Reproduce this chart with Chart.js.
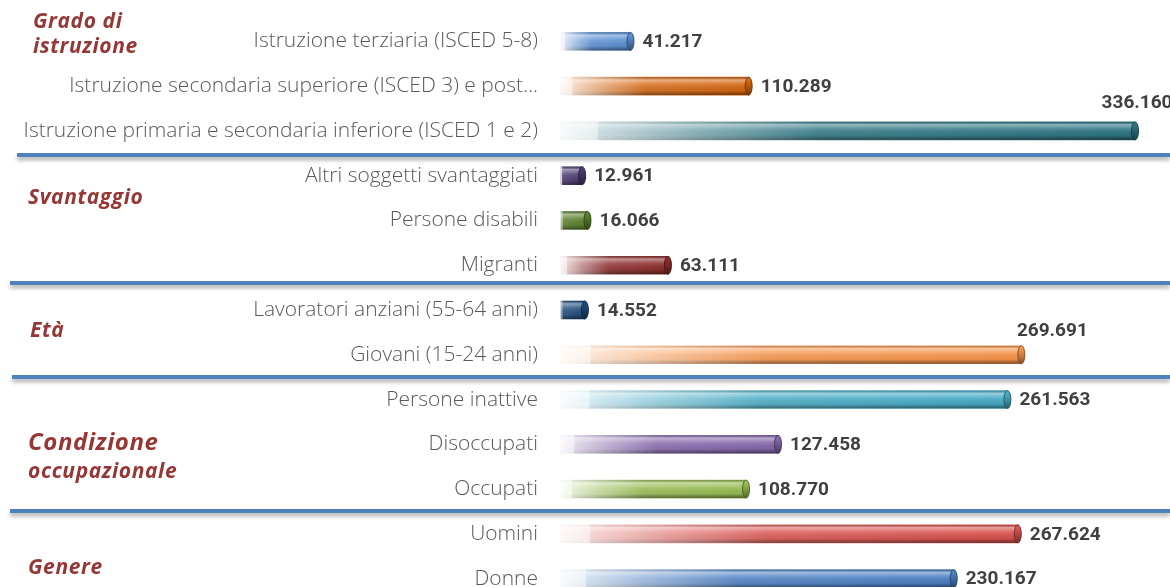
<!DOCTYPE html>
<html lang="it">
<head>
<meta charset="UTF-8">
<title>Partecipanti per caratteristiche</title>
<script src="https://cdn.jsdelivr.net/npm/chart.js"></script>
<style>
  html, body { margin: 0; padding: 0; background: #fff; overflow: hidden; }
  #wrap { width: 1170px; height: 601px; }
</style>
</head>
<body>
<div id="wrap"><canvas id="chart" width="1170" height="601"></canvas></div>
<script>
const categories = [
  'Istruzione terziaria (ISCED 5-8)',
  'Istruzione secondaria superiore (ISCED 3) e post\u2026',
  'Istruzione primaria e secondaria inferiore (ISCED 1 e 2)',
  'Altri soggetti svantaggiati',
  'Persone disabili',
  'Migranti',
  'Lavoratori anziani (55-64 anni)',
  'Giovani (15-24 anni)',
  'Persone inattive',
  'Disoccupati',
  'Occupati',
  'Uomini',
  'Donne'
];
const values = [41217, 110289, 336160, 12961, 16066, 63111, 14552, 269691, 261563, 127458, 108770, 267624, 230167];
const barColors = ['#5b8fd2', '#d4650f', '#2c7482', '#4b3a6e', '#5a7f2c', '#8c2b2b', '#1f4a7c',
                   '#f7944a', '#45aac4', '#8466aa', '#96bb50', '#d9524e', '#4a7fc2'];
const groupLabels = [['Grado di', 'istruzione'], ['Svantaggio'], ['Et\u00e0'], ['Condizione', 'occupazionale'], ['Genere']];

function fmt(v) { return String(v).replace(/\B(?=(\d{3})+(?!\d))/g, '.'); }
function rgb(hex) {
  const n = parseInt(hex.slice(1), 16);
  return [(n >> 16) & 255, (n >> 8) & 255, n & 255];
}
function rgba(hex, a, k) {
  k = k || 1;
  const c = rgb(hex).map(v => Math.min(255, Math.round(v * k)));
  return 'rgba(' + c.join(',') + ',' + a + ')';
}

// horizontal fade from almost white to the full colour
function barFill(ctx) {
  const chart = ctx.chart, i = ctx.dataIndex;
  const x = chart.scales.x;
  if (!chart.chartArea || !x || i === undefined) return barColors[i] || '#888';
  const x0 = x.getPixelForValue(0), x1 = x.getPixelForValue(values[i]);
  const w = x1 - x0;
  const c = barColors[i];
  const g = chart.ctx.createLinearGradient(x0, 0, x1, 0);
  const f = w > 50 ? 0.45 : 0.12;
  g.addColorStop(0, rgba(c, 0.04));
  g.addColorStop(0.065, rgba(c, 0.12));
  g.addColorStop(0.067, rgba(c, 0.25));
  g.addColorStop(f * 0.5, rgba(c, 0.55));
  g.addColorStop(f, rgba(c, 0.9));
  g.addColorStop(1, rgba(c, 1));
  return g;
}

const cylinder = {
  id: 'cylinder',
  afterDatasetsDraw(chart) {
    const ctx = chart.ctx;
    chart.getDatasetMeta(0).data.forEach((bar, i) => {
      const h = bar.height, top = bar.y - h / 2;
      const left = bar.base, right = bar.x;
      ctx.save();
      ctx.globalCompositeOperation = 'source-atop';
      const g = ctx.createLinearGradient(0, top, 0, top + h);
      g.addColorStop(0, 'rgba(0,0,0,0.2)');
      g.addColorStop(0.15, 'rgba(255,255,255,0.45)');
      g.addColorStop(0.4, 'rgba(255,255,255,0.12)');
      g.addColorStop(0.75, 'rgba(0,0,0,0.05)');
      g.addColorStop(1, 'rgba(0,0,0,0.5)');
      ctx.fillStyle = g;
      ctx.fillRect(left, top, right - left + 1, h);
      ctx.restore();
      // rounded end cap
      const c = barColors[i];
      ctx.save();
      ctx.beginPath();
      ctx.ellipse(right, bar.y, 3.5, h / 2, 0, 0, Math.PI * 2);
      const g2 = ctx.createLinearGradient(0, top, 0, top + h);
      g2.addColorStop(0, rgba(c, 1, 1.1));
      g2.addColorStop(0.5, rgba(c, 1, 0.85));
      g2.addColorStop(1, rgba(c, 1, 0.55));
      ctx.fillStyle = g2;
      ctx.fill();
      ctx.lineWidth = 1;
      ctx.strokeStyle = rgba(c, 0.9, 0.5);
      ctx.stroke();
      ctx.restore();
    });
  }
};

// value labels; two of them sit above the bar end as in the original
const valueLabels = {
  id: 'valueLabels',
  afterDatasetsDraw(chart) {
    const ctx = chart.ctx;
    const above = { 2: [2, -28], 7: [31, -24] };
    ctx.save();
    ctx.font = 'bold 19px Roboto';
    ctx.fillStyle = '#404040';
    ctx.textBaseline = 'middle';
    chart.getDatasetMeta(0).data.forEach((bar, i) => {
      const t = fmt(values[i]);
      if (above[i]) {
        ctx.textAlign = 'center';
        ctx.fillText(t, bar.x + above[i][0], bar.y + above[i][1]);
      } else {
        ctx.textAlign = 'left';
        ctx.fillText(t, bar.x + 12, bar.y + 1);
      }
    });
    ctx.restore();
  }
};

// blue group separators and dark red group titles
const groupsPlugin = {
  id: 'groups',
  afterDraw(chart) {
    const ctx = chart.ctx, y = chart.scales.y;
    const seps = [[2.53, 17], [5.4, 10], [7.5, 12], [10.49, 10]];
    ctx.save();
    seps.forEach(([idx, x0]) => {
      const py = Math.round(y.getPixelForValue(idx));
      ctx.shadowColor = 'rgba(0,0,0,0.35)';
      ctx.shadowBlur = 4;
      ctx.shadowOffsetY = 3;
      ctx.fillStyle = '#4f81bd';
      ctx.fillRect(x0, py - 2, chart.width - x0, 4);
    });
    ctx.restore();

    const titles = [
      [[-0.43, 33, 21], [0.125, 33, 21]],
      [[3.5, 28, 21]],
      [[6.47, 30, 21]],
      [[8.97, 28, 24], [9.62, 28, 21]],
      [[11.76, 28, 21]]
    ];
    ctx.save();
    ctx.fillStyle = '#953735';
    ctx.textAlign = 'left';
    ctx.textBaseline = 'middle';
    ctx.letterSpacing = '0.6px';
    groupLabels.forEach((lines, g) => {
      lines.forEach((txt, k) => {
        const [idx, px, size] = titles[g][k];
        ctx.font = 'italic bold ' + size + 'px "Open Sans"';
        ctx.fillText(txt, px, y.getPixelForValue(idx));
      });
    });
    ctx.restore();
  }
};

new Chart(document.getElementById('chart'), {
  type: 'bar',
  data: {
    labels: categories,
    datasets: [{
      data: values,
      backgroundColor: barFill,
      borderWidth: 0,
      barThickness: 18
    }]
  },
  options: {
    indexAxis: 'y',
    responsive: false,
    animation: false,
    layout: { padding: { top: 19, right: 0, bottom: 0, left: 0 } },
    plugins: { legend: { display: false }, tooltip: { enabled: false } },
    scales: {
      x: { display: false, min: 0, max: 356600 },
      y: {
        grid: { display: false, drawTicks: false },
        border: { display: false },
        ticks: { color: '#595959', font: { family: 'Open Sans', size: 21, weight: '300' }, padding: 22, autoSkip: false },
        afterFit(scale) {
          scale.width = 560;
          scale.paddingTop = 0;
          scale.paddingBottom = 0;
        }
      }
    }
  },
  plugins: [cylinder, valueLabels, groupsPlugin]
});
</script>
</body>
</html>
